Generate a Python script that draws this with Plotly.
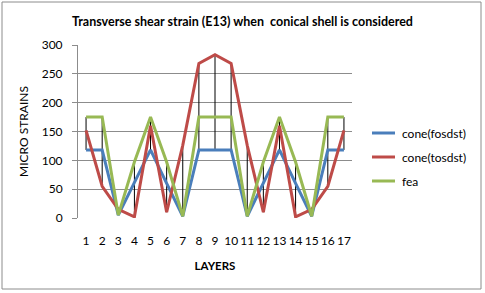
import plotly.graph_objects as go

layers = [str(i) for i in range(1, 18)]
cone_fosdst = [118, 118, 5, 62, 118, 60, 3, 118, 118, 118, 3, 60, 118, 60, 3, 118, 118]
cone_tosdst = [152, 55, 15, 2, 160, 10, 126, 268, 283, 268, 126, 10, 160, 2, 15, 55, 152]
fea = [175, 175, 5, 97, 175, 97, 3, 175, 175, 175, 3, 97, 175, 97, 3, 175, 175]
series_names = ["cone(fosdst)", "cone(tosdst)", "fea"]
series_colors = ["#4A7EBB", "#BE4B48", "#98B954"]
yticks = [0, 50, 100, 150, 200, 250, 300]

FONT = "Lato, Open Sans, DejaVu Sans, sans-serif"
series = [cone_fosdst, cone_tosdst, fea]

# high-low lines
hx, hy = [], []
for i, cat in enumerate(layers):
    vals = [s[i] for s in series]
    hx += [cat, cat, None]
    hy += [min(vals), max(vals), None]

fig = go.Figure()
fig.add_trace(go.Scatter(x=hx, y=hy, mode="lines", line=dict(color="black", width=1),
                         showlegend=False, hoverinfo="skip"))
for name, vals, col in zip(series_names, series, series_colors):
    fig.add_trace(go.Scatter(x=layers, y=vals, mode="lines", name=name,
                             line=dict(color=col, width=3), showlegend=False))

W, H = 485, 293
L, R, T, B = 78, 133, 45, 75
pw, ph = W - L - R, H - T - B

def px(x):
    return (x - L) / pw

def py(y):
    return (H - B - y) / ph

shapes = [dict(type="rect", xref="paper", yref="paper",
               x0=px(2), x1=px(481), y0=py(289), y1=py(2),
               line=dict(color="#8C8C8C", width=1), fillcolor="rgba(0,0,0,0)", layer="below")]
annotations = [
    dict(text="<b>Transverse shear strain (E13) when  conical shell is considered</b>",
         xref="paper", yref="paper", x=px(242), y=py(21), showarrow=False,
         font=dict(family=FONT, size=12.5, color="black"), xanchor="center", yanchor="middle"),
]
leg_y = [133, 157, 181]
for name, col, ly in zip(series_names, series_colors, leg_y):
    shapes.append(dict(type="line", xref="paper", yref="paper", x0=px(372), x1=px(395),
                       y0=py(ly), y1=py(ly), line=dict(color=col, width=3)))
    annotations.append(dict(text=name, xref="paper", yref="paper", x=px(400), y=py(ly),
                            showarrow=False, xanchor="left", yanchor="middle",
                            font=dict(family=FONT, size=12, color="black")))

fig.update_layout(
    width=W, height=H, margin=dict(l=L, r=R, t=T, b=B, pad=0),
    paper_bgcolor="white", plot_bgcolor="white",
    font=dict(family=FONT, size=12, color="black"),
    shapes=shapes, annotations=annotations, showlegend=False,
    xaxis=dict(type="category", range=[-0.5, 16.5], showgrid=False, showline=False,
               ticks="", tickfont=dict(size=12), ticklabelstandoff=14,
               title=dict(text="<b>LAYERS</b>", font=dict(size=11.5), standoff=14)),
    yaxis=dict(range=[0, 300], tickvals=yticks, showgrid=True, gridcolor="#8C8C8C", gridwidth=1,
               showline=True, linecolor="#8C8C8C", linewidth=1, ticks="outside", ticklen=5,
               tickcolor="#8C8C8C", tickfont=dict(size=12), ticklabelstandoff=7,
               zeroline=False,
               title=dict(text="MICRO STRAINS", font=dict(size=12), standoff=10)),
)
fig.write_html("out.html", config={"displayModeBar": False},
               post_script="document.body.style.margin='0';document.body.style.overflow='hidden';")
